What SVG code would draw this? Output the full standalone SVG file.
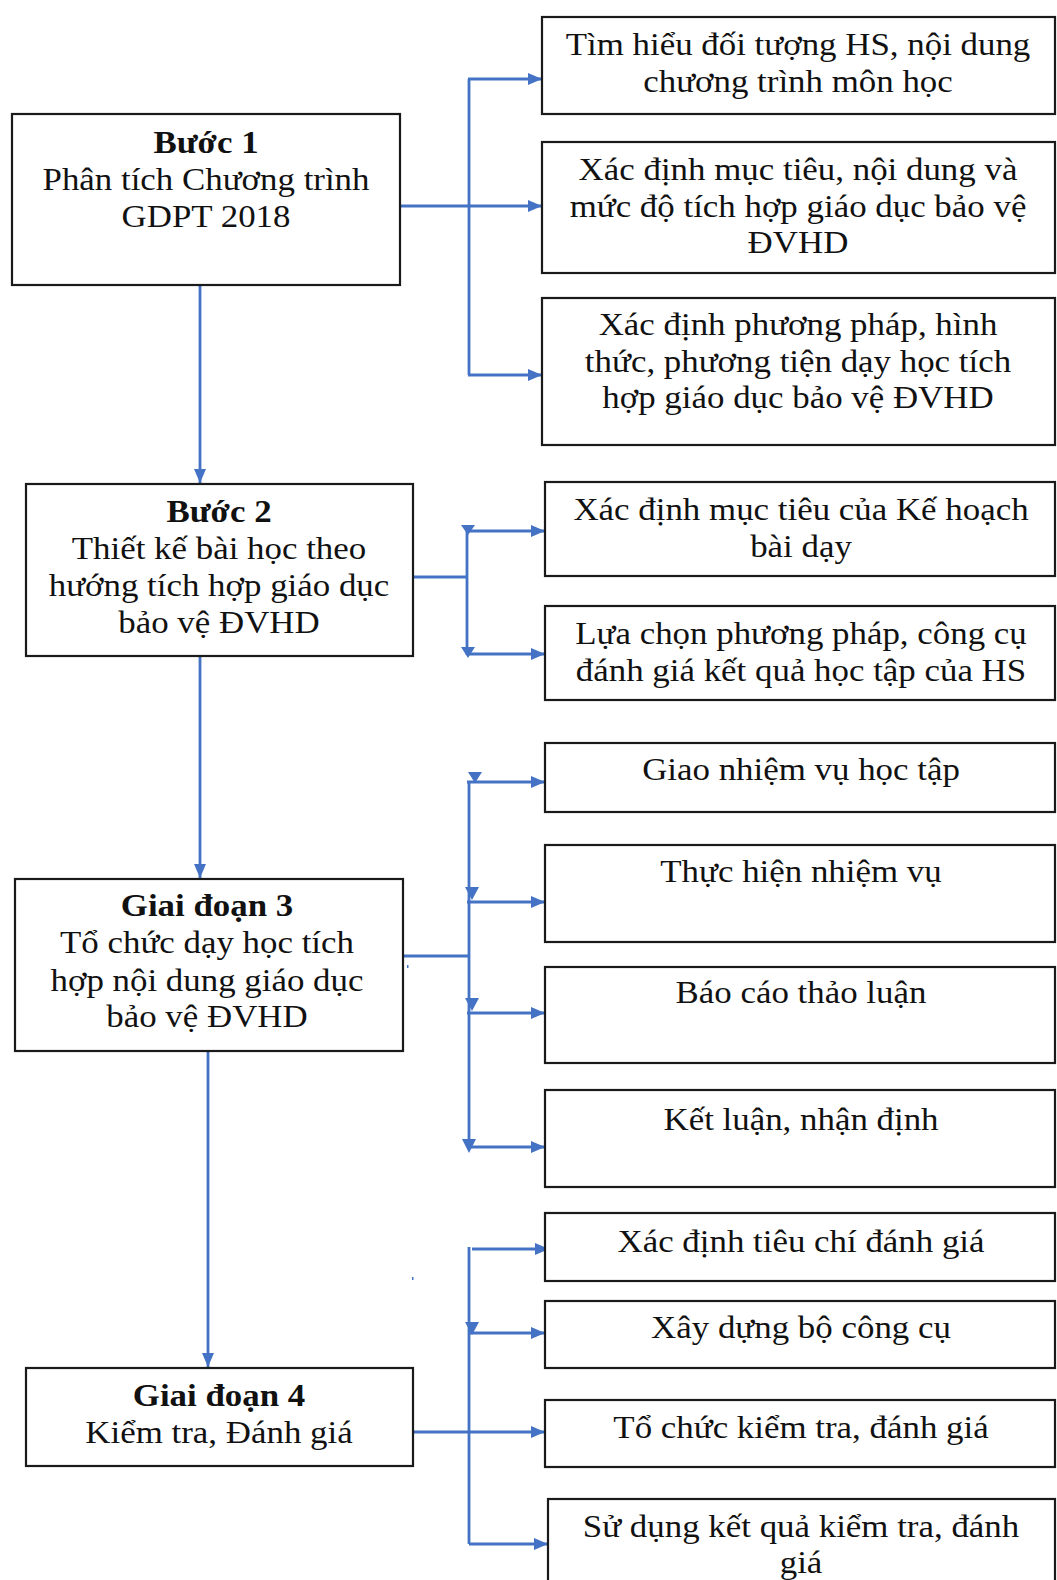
<svg xmlns="http://www.w3.org/2000/svg" width="1057" height="1580" viewBox="0 0 1057 1580">
<style>
.box{fill:#fff;stroke:#1a1a1a;stroke-width:2.2}
.t{font-family:"Liberation Serif","Times New Roman",serif;font-size:32px;fill:#111;text-anchor:middle}
.b{font-weight:bold}
.c{stroke:#4472C4;stroke-width:2.8;fill:none}
.tri{fill:#4472C4}
</style>
<defs>
<marker id="ah" viewBox="0 0 14 12" refX="14" refY="6" markerWidth="14" markerHeight="12" markerUnits="userSpaceOnUse" orient="auto">
<path d="M0,0 L14,6 L0,12 Z" fill="#4472C4"/>
</marker>
</defs>
<rect width="1057" height="1580" fill="#fff"/>

<g id="connectors">
<line class="c" x1="200" y1="285" x2="200" y2="483" marker-end="url(#ah)"/>
<line class="c" x1="200" y1="656" x2="200" y2="878" marker-end="url(#ah)"/>
<line class="c" x1="208" y1="1051" x2="208" y2="1367" marker-end="url(#ah)"/>
<line class="c" x1="400" y1="206" x2="542" y2="206" marker-end="url(#ah)"/>
<line class="c" x1="469" y1="79" x2="469" y2="375"/>
<line class="c" x1="468" y1="79" x2="542" y2="79" marker-end="url(#ah)"/>
<line class="c" x1="468" y1="375" x2="542" y2="375" marker-end="url(#ah)"/>
<line class="c" x1="413" y1="577" x2="467" y2="577"/>
<line class="c" x1="467" y1="529" x2="467" y2="655"/>
<line class="c" x1="467" y1="531" x2="545" y2="531" marker-end="url(#ah)"/>
<line class="c" x1="467" y1="654" x2="545" y2="654" marker-end="url(#ah)"/>
<polygon class="tri" points="461,525 475,525 468,535"/>
<polygon class="tri" points="461,647 475,647 468,658"/>
<line class="c" x1="403" y1="956" x2="469" y2="956"/>
<line class="c" x1="469" y1="782" x2="469" y2="1147"/>
<line class="c" x1="467" y1="782" x2="545" y2="782" marker-end="url(#ah)"/>
<line class="c" x1="467" y1="902" x2="545" y2="902" marker-end="url(#ah)"/>
<line class="c" x1="467" y1="1013" x2="545" y2="1013" marker-end="url(#ah)"/>
<line class="c" x1="467" y1="1147" x2="545" y2="1147" marker-end="url(#ah)"/>
<polygon class="tri" points="468,772 482,772 475,783"/>
<polygon class="tri" points="465,887 479,887 472,900"/>
<polygon class="tri" points="465,998 479,998 472,1011"/>
<polygon class="tri" points="462,1139 476,1139 469,1153"/>
<rect x="407" y="965" width="1.5" height="3" fill="#4472C4"/>
<line class="c" x1="413" y1="1432" x2="545" y2="1432" marker-end="url(#ah)"/>
<line class="c" x1="469" y1="1247" x2="469" y2="1544"/>
<line class="c" x1="472" y1="1249" x2="549" y2="1249" marker-end="url(#ah)"/>
<line class="c" x1="469" y1="1333" x2="545" y2="1333" marker-end="url(#ah)"/>
<line class="c" x1="469" y1="1544" x2="548" y2="1544" marker-end="url(#ah)"/>
<polygon class="tri" points="465,1322 479,1322 472,1335"/>
<rect x="412" y="1277" width="1.5" height="3" fill="#4472C4"/>
</g>

<g id="buoc1">
<rect class="box" x="12" y="114" width="388" height="171"/>
<g transform="translate(206 0) scale(1.09 1)">
<text class="t b" x="0" y="153">Bước 1</text>
<text class="t" x="0" y="190">Phân tích Chương trình</text>
<text class="t" x="0" y="227">GDPT 2018</text>
</g>
</g>

<g id="r1a">
<rect class="box" x="542" y="17" width="513" height="97"/>
<g transform="translate(798 0) scale(1.09 1)">
<text class="t" x="0" y="55">Tìm hiểu đối tượng HS, nội dung</text>
<text class="t" x="0" y="92">chương trình môn học</text>
</g>
</g>

<g id="r1b">
<rect class="box" x="542" y="142" width="513" height="131"/>
<g transform="translate(798 0) scale(1.09 1)">
<text class="t" x="0" y="180">Xác định mục tiêu, nội dung và</text>
<text class="t" x="0" y="217">mức độ tích hợp giáo dục bảo vệ</text>
<text class="t" x="0" y="253">ĐVHD</text>
</g>
</g>

<g id="r1c">
<rect class="box" x="542" y="298" width="513" height="147"/>
<g transform="translate(798 0) scale(1.09 1)">
<text class="t" x="0" y="335">Xác định phương pháp, hình</text>
<text class="t" x="0" y="372">thức, phương tiện dạy học tích</text>
<text class="t" x="0" y="408">hợp giáo dục bảo vệ ĐVHD</text>
</g>
</g>

<g id="buoc2">
<rect class="box" x="26" y="484" width="387" height="172"/>
<g transform="translate(219 0) scale(1.09 1)">
<text class="t b" x="0" y="522">Bước 2</text>
<text class="t" x="0" y="559">Thiết kế bài học theo</text>
<text class="t" x="0" y="596">hướng tích hợp giáo dục</text>
<text class="t" x="0" y="633">bảo vệ ĐVHD</text>
</g>
</g>

<g id="r2a">
<rect class="box" x="545" y="482" width="510" height="94"/>
<g transform="translate(801 0) scale(1.09 1)">
<text class="t" x="0" y="520">Xác định mục tiêu của Kế hoạch</text>
<text class="t" x="0" y="557">bài dạy</text>
</g>
</g>

<g id="r2b">
<rect class="box" x="545" y="606" width="510" height="94"/>
<g transform="translate(801 0) scale(1.09 1)">
<text class="t" x="0" y="644">Lựa chọn phương pháp, công cụ</text>
<text class="t" x="0" y="681">đánh giá kết quả học tập của HS</text>
</g>
</g>

<g id="giaidoan3">
<rect class="box" x="15" y="879" width="388" height="172"/>
<g transform="translate(207 0) scale(1.09 1)">
<text class="t b" x="0" y="916">Giai đoạn 3</text>
<text class="t" x="0" y="953">Tổ chức dạy học tích</text>
<text class="t" x="0" y="991">hợp nội dung giáo dục</text>
<text class="t" x="0" y="1027">bảo vệ ĐVHD</text>
</g>
</g>

<g id="r3a">
<rect class="box" x="545" y="743" width="510" height="69"/>
<g transform="translate(801 0) scale(1.09 1)">
<text class="t" x="0" y="780">Giao nhiệm vụ học tập</text>
</g>
</g>

<g id="r3b">
<rect class="box" x="545" y="845" width="510" height="97"/>
<g transform="translate(801 0) scale(1.09 1)">
<text class="t" x="0" y="882">Thực hiện nhiệm vụ</text>
</g>
</g>

<g id="r3c">
<rect class="box" x="545" y="967" width="510" height="96"/>
<g transform="translate(801 0) scale(1.09 1)">
<text class="t" x="0" y="1003">Báo cáo thảo luận</text>
</g>
</g>

<g id="r3d">
<rect class="box" x="545" y="1090" width="510" height="97"/>
<g transform="translate(801 0) scale(1.09 1)">
<text class="t" x="0" y="1130">Kết luận, nhận định</text>
</g>
</g>

<g id="giaidoan4">
<rect class="box" x="26" y="1368" width="387" height="98"/>
<g transform="translate(219 0) scale(1.09 1)">
<text class="t b" x="0" y="1406">Giai đoạn 4</text>
<text class="t" x="0" y="1443">Kiểm tra, Đánh giá</text>
</g>
</g>

<g id="r4a">
<rect class="box" x="545" y="1213" width="510" height="68"/>
<g transform="translate(801 0) scale(1.09 1)">
<text class="t" x="0" y="1252">Xác định tiêu chí đánh giá</text>
</g>
</g>

<g id="r4b">
<rect class="box" x="545" y="1301" width="510" height="67"/>
<g transform="translate(801 0) scale(1.09 1)">
<text class="t" x="0" y="1338">Xây dựng bộ công cụ</text>
</g>
</g>

<g id="r4c">
<rect class="box" x="545" y="1400" width="510" height="67"/>
<g transform="translate(801 0) scale(1.09 1)">
<text class="t" x="0" y="1438">Tổ chức kiểm tra, đánh giá</text>
</g>
</g>

<g id="r4d">
<rect class="box" x="548" y="1499" width="507" height="100"/>
<g transform="translate(801 0) scale(1.09 1)">
<text class="t" x="0" y="1537">Sử dụng kết quả kiểm tra, đánh</text>
<text class="t" x="0" y="1573">giá</text>
</g>
</g>
</svg>
